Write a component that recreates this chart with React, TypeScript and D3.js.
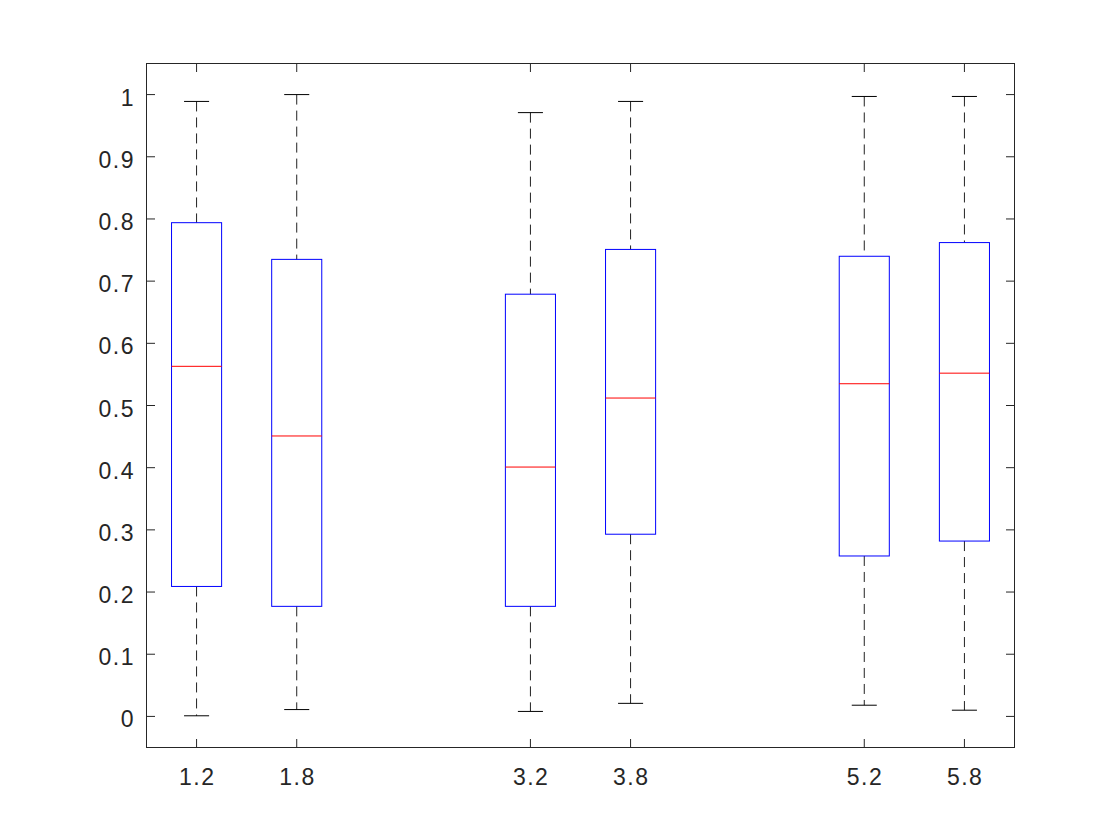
import React from "react";
import * as d3 from "d3";

const positions = [1.2, 1.8, 3.2, 3.8, 5.2, 5.8];
const tickLabels = ["1.2", "1.8", "3.2", "3.8", "5.2", "5.8"];
const whiskerHigh = [0.989, 1.0, 0.971, 0.989, 0.997, 0.997];
const q3 = [0.794, 0.735, 0.679, 0.751, 0.740, 0.762];
const medians = [0.563, 0.451, 0.401, 0.512, 0.535, 0.552];
const q1 = [0.209, 0.177, 0.177, 0.293, 0.258, 0.282];
const whiskerLow = [0.001, 0.011, 0.008, 0.021, 0.018, 0.010];
const yTicks = [0, 0.1, 0.2, 0.3, 0.4, 0.5, 0.6, 0.7, 0.8, 0.9, 1];

export default function App() {
  const W = 1120, H = 840;
  const L = 146.5, R = 1014.5, T = 63.5, B = 747.5;
  const x = d3.scaleLinear().domain([0.9, 6.1]).range([L, R]);
  const y = d3.scaleLinear().domain([-0.05, 1.05]).range([B, T]);
  const boxHalf = (x(0.15) - x(0));
  const capHalf = (x(0.075) - x(0));
  const axisColor = "#262626";
  const tickLen = 8.5;
  const font = "'Liberation Sans', Arial, Helvetica, sans-serif";
  const fs = 23;
  const ls = 1.5;

  return (
    <svg width={W} height={H} style={{ position: "absolute", left: 0, top: 0, background: "#fff" }}>
      <rect x={0} y={0} width={W} height={H} fill="#fff" />
      {positions.map((p, i) => {
        const cx = x(p);
        return (
          <g key={i}>
            <line x1={cx} x2={cx} y1={y(whiskerHigh[i])} y2={y(q3[i])} stroke="#222" strokeWidth={1} strokeDasharray="10,6" />
            <line x1={cx} x2={cx} y1={y(q1[i])} y2={y(whiskerLow[i])} stroke="#222" strokeWidth={1} strokeDasharray="10,6" />
            <line x1={cx - capHalf} x2={cx + capHalf} y1={y(whiskerHigh[i])} y2={y(whiskerHigh[i])} stroke="#000" strokeWidth={1} />
            <line x1={cx - capHalf} x2={cx + capHalf} y1={y(whiskerLow[i])} y2={y(whiskerLow[i])} stroke="#000" strokeWidth={1} />
            <rect x={cx - boxHalf} y={y(q3[i])} width={2 * boxHalf} height={y(q1[i]) - y(q3[i])} fill="none" stroke="#0000ff" strokeWidth={1} />
            <line x1={cx - boxHalf} x2={cx + boxHalf} y1={y(medians[i])} y2={y(medians[i])} stroke="#ff0000" strokeWidth={1} />
          </g>
        );
      })}
      <rect x={L} y={T} width={R - L} height={B - T} fill="none" stroke={axisColor} strokeWidth={1} />
      {yTicks.map((t) => (
        <g key={"y" + t}>
          <line x1={L} x2={L + tickLen} y1={y(t)} y2={y(t)} stroke={axisColor} />
          <line x1={R} x2={R - tickLen} y1={y(t)} y2={y(t)} stroke={axisColor} />
          <text x={L - 13 + ls} y={y(t) + 11} textAnchor="end" fontFamily={font} fontSize={fs} letterSpacing={ls} fill={axisColor}>
            {String(t)}
          </text>
        </g>
      ))}
      {positions.map((p, i) => (
        <g key={"x" + i}>
          <line x1={x(p)} x2={x(p)} y1={B} y2={B - tickLen} stroke={axisColor} />
          <line x1={x(p)} x2={x(p)} y1={T} y2={T + tickLen} stroke={axisColor} />
          <text x={x(p) + ls / 2} y={785} textAnchor="middle" fontFamily={font} fontSize={fs} letterSpacing={ls} fill={axisColor}>
            {tickLabels[i]}
          </text>
        </g>
      ))}
    </svg>
  );
}
